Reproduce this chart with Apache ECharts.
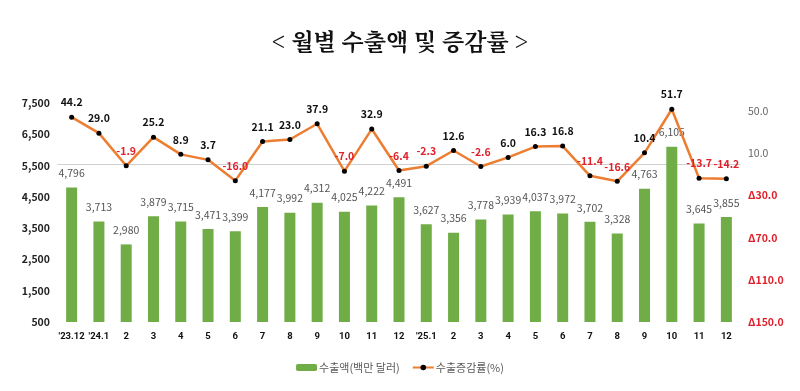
<!DOCTYPE html>
<html>
<head>
<meta charset="utf-8">
<script src="https://cdn.jsdelivr.net/npm/echarts@6/dist/echarts.min.js"></script>
<style>html,body{margin:0;padding:0;background:#fff}#c{width:800px;height:391px}</style>
</head>
<body>
<div id="c"></div>
<script>
const categories = ["'23.12","'24.1","2","3","4","5","6","7","8","9","10","11","12","'25.1","2","3","4","5","6","7","8","9","10","11","12"];
const exports = [4796,3713,2980,3879,3715,3471,3399,4177,3992,4312,4025,4222,4491,3627,3356,3778,3939,4037,3972,3702,3328,4763,6105,3645,3855];
const growth = [44.2,29.0,-1.9,25.2,8.9,3.7,-16.0,21.1,23.0,37.9,-7.0,32.9,-6.4,-2.3,12.6,-2.6,6.0,16.3,16.8,-11.4,-16.6,10.4,51.7,-13.7,-14.2];
const leftTicks = {min:500, max:7500, interval:1000};
const rightTicks = {min:-150, max:57.6, interval:40};

const FONT = '"Noto Sans CJK KR", "Noto Sans", sans-serif';
const NARROW = 'Roboto, "Noto Sans CJK KR", sans-serif';
const chart = echarts.init(document.getElementById('c'), null, {renderer:'canvas'});
chart.setOption({
  animation:false,
  backgroundColor:'#fff',
  title:{
    text:'< 월별 수출액 및 증감률 >',
    left:'center', top:25,
    textStyle:{fontFamily:'"Noto Serif CJK KR","Noto Sans CJK KR",serif', fontSize:23, fontWeight:'bold', color:'#111'}
  },
  legend:{
    bottom:13, left:'center', itemGap:12, itemWidth:21, itemHeight:7,
    textStyle:{fontFamily:FONT, fontSize:11, color:'#595959', padding:[0,0,0,-3]},
    data:['수출액(백만 달러)','수출증감률(%)']
  },
  grid:{left:58, right:60, top:103, bottom:69},
  xAxis:{
    type:'category', data:categories,
    axisLine:{lineStyle:{color:'#d0d0d0'}},
    axisTick:{show:false},
    axisLabel:{fontFamily:NARROW, fontSize:9.5, fontWeight:'bold', color:'#111', margin:10, interval:0}
  },
  yAxis:[
    {type:'value', min:leftTicks.min, max:leftTicks.max, interval:leftTicks.interval,
     splitLine:{show:false}, axisLine:{show:false}, axisTick:{show:false},
     axisLabel:{fontFamily:FONT, fontSize:10.5, fontWeight:'bold', color:'#222', margin:8,
       formatter:v=>v.toLocaleString('en-US')}},
    {type:'value', min:rightTicks.min, max:rightTicks.max, interval:rightTicks.interval,
     splitLine:{show:false}, axisLine:{show:false}, axisTick:{show:false},
     axisLabel:{showMaxLabel:false, margin:8,
       formatter:v=> v<0 ? '{r|Δ'+Math.abs(v).toFixed(1)+'}' : '{p|'+v.toFixed(1)+'}',
       rich:{
         r:{fontFamily:FONT, fontSize:10.5, fontWeight:'bold', color:'#e0202a'},
         p:{fontFamily:FONT, fontSize:10.5, fontWeight:'normal', color:'#666'}
       }}}
  ],
  series:[
    {name:'수출액(백만 달러)', type:'bar', data:exports, yAxisIndex:0, barWidth:11,
     itemStyle:{color:'#70ad47'},
     label:{show:true, position:'top', distance:9, fontFamily:FONT, fontSize:10.5, color:'#555',
       formatter:p=>p.value.toLocaleString('en-US')}},
    {name:'수출증감률(%)', type:'line', data:growth, yAxisIndex:1,
     symbol:'circle', symbolSize:5,
     lineStyle:{color:'#ed7d31', width:2.5},
     itemStyle:{color:'#000'},
     label:{show:true, position:'top', distance:7,
       formatter:p=> p.value<0 ? '{n|'+p.value.toFixed(1)+'}' : '{q|'+p.value.toFixed(1)+'}',
       rich:{
         n:{fontFamily:FONT, fontSize:10.5, fontWeight:'bold', color:'#e0202a'},
         q:{fontFamily:FONT, fontSize:10.5, fontWeight:'bold', color:'#111'}
       }}}
  ]
});
</script>
</body>
</html>
